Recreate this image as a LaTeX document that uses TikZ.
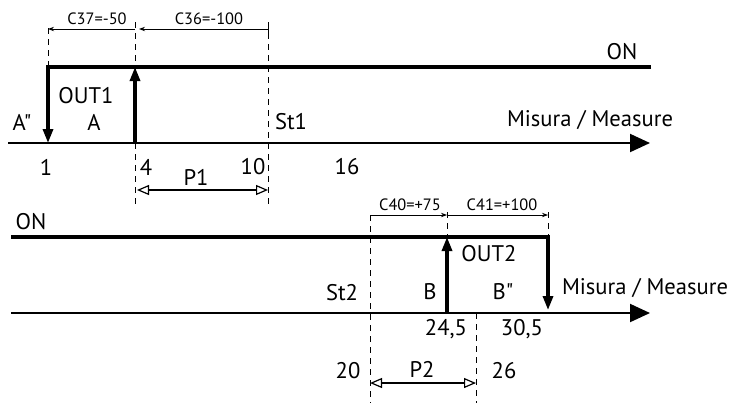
\documentclass[tikz,border=0pt]{standalone}
\usepackage{fontspec}
\newfontfamily\diagfont{PT Sans}
\usetikzlibrary{arrows.meta}

\begin{document}
\begin{tikzpicture}[
  x=0.5pt, y=-0.5pt,
  every node/.style={font=\diagfont\fontsize{11.3}{13}\selectfont, inner sep=0pt},
  dimlabel/.style={font=\diagfont\fontsize{8.2}{10}\selectfont},
  onwire/.style={line width=1.6pt, -{Triangle[length=7pt,width=5pt]}},
  axis/.style={line width=1pt, -{Triangle[length=10pt,width=9pt]}},
  guide/.style={line width=0.5pt, dash pattern=on 3pt off 2.5pt},
  meas/.style={line width=0.4pt, -{Stealth[length=3pt,width=2.2pt]}},
  span/.style={line width=0.6pt, {Triangle[open,length=6pt,width=5pt]}-{Triangle[open,length=6pt,width=5pt]}}
]
\useasboundingbox (0,0) rectangle (731,403);

% upper diagram
\coordinate (ax1s) at (8,143);
\coordinate (ax1e) at (650,143);
\coordinate (p1) at (48,143);
\coordinate (p1t) at (48,67);
\coordinate (p4) at (135,143);
\coordinate (p4t) at (135,67);
\coordinate (on1e) at (651,67);
\coordinate (g1a) at (48,28);
\coordinate (g4a) at (135,22);
\coordinate (g4b) at (135,208);
\coordinate (g10a) at (268,22);
\coordinate (g10b) at (268,208);
\coordinate (d1) at (48,29);
\coordinate (d4) at (135,29);
\coordinate (d4r) at (139,29);
\coordinate (d10) at (268,29);
\coordinate (s4) at (137,190);
\coordinate (s10) at (268,190);

\draw[guide] (g1a) -- (p1t);
\draw[guide] (g4a) -- (g4b);
\draw[guide] (g10a) -- (g10b);
\draw[line width=0.5pt] (g10a) -- ++(0,13);
\draw[meas] (d4) -- (d1);
\draw[meas] (d10) -- (d4r);
\draw[axis] (ax1s) -- (ax1e);
\draw[onwire] (on1e) -- (p1t) -- (p1);
\draw[onwire] (p4) -- (p4t);
\draw[span] (s4) -- (s10);

\node[dimlabel] (c37) at (97,19) {C37=-50};
\node[dimlabel] (c36) at (209,19) {C36=-100};
\node (on1) at (622,52) {ON};
\node (out1) at (86,96) {OUT1};
\node (la) at (94,122) {A};
\node (laa) at (22,122) {A"};
\node (st1) at (291,122) {St1};
\node (ms1) at (590,120) {Misura / Measure};
\node (n1) at (46,167) {1};
\node (n4) at (146,167) {4};
\node (n10) at (253,167) {10};
\node (n16) at (347,167) {16};
\node (lp1) at (196,177) {P1};

% lower diagram
\coordinate (ax2s) at (11,313);
\coordinate (ax2e) at (650,313);
\coordinate (on2s) at (11,237);
\coordinate (q24) at (447,313);
\coordinate (q24t) at (447,237);
\coordinate (q30t) at (548,237);
\coordinate (q30) at (548,310);
\coordinate (h20a) at (370,215);
\coordinate (h20b) at (370,403);
\coordinate (h24a) at (447,212);
\coordinate (h30a) at (548,212);
\coordinate (h26a) at (476,313);
\coordinate (h26b) at (476,403);
\coordinate (e20) at (370,215);
\coordinate (e24) at (447,215);
\coordinate (e30) at (548,215);
\coordinate (t20) at (370,383);
\coordinate (t26) at (476,383);

\draw[guide] (h20a) -- (h20b);
\draw[guide] (h24a) -- (q24t);
\draw[guide] (h30a) -- (q30t);
\draw[guide] (h26a) -- (h26b);
\draw[meas] (e20) -- (e24);
\draw[meas] (e24) -- (e30);
\draw[axis] (ax2s) -- (ax2e);
\draw[onwire] (on2s) -- (q30t) -- (q30);
\draw[onwire] (q24) -- (q24t);
\draw[span] (t20) -- (t26);

\node[dimlabel] (c40) at (410,205) {C40=+75};
\node[dimlabel] (c41) at (502,205) {C41=+100};
\node (on2) at (31,222) {ON};
\node (out2) at (489,254) {OUT2};
\node (st2) at (342,293) {St2};
\node (lb) at (430,292) {B};
\node (lbb) at (503,292) {B"};
\node (ms2) at (645,288) {Misura / Measure};
\node (n245) at (446,329) {24,5};
\node (n305) at (522,329) {30,5};
\node (n20) at (348,371) {20};
\node (lp2) at (422,369) {P2};
\node (n26) at (504,371) {26};
\end{tikzpicture}
\end{document}
